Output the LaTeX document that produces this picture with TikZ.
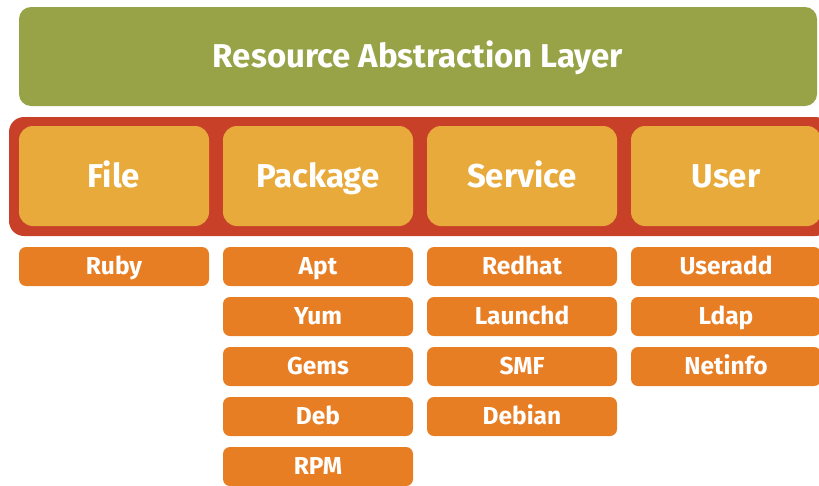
\documentclass[tikz,border=0pt]{standalone}
\usepackage{fontspec}
\setmainfont{Fira Sans}
\definecolor{ragreen}{RGB}{152,163,72}
\definecolor{rared}{RGB}{200,64,40}
\definecolor{rayellow}{RGB}{232,170,58}
\definecolor{raorange}{RGB}{232,126,36}
\tikzset{
  layerbox/.style={fill=ragreen, rounded corners=12pt, minimum width=798pt, minimum height=99pt, inner sep=0pt, text=white, text height=22.7pt, text depth=0pt, font=\fontsize{33}{36}\selectfont\bfseries},
  typebox/.style={fill=rayellow, rounded corners=14pt, minimum width=190pt, minimum height=100pt, inner sep=0pt, text=white, text height=22.7pt, text depth=0pt, font=\fontsize{33}{36}\selectfont\bfseries},
  provbox/.style={fill=raorange, rounded corners=7pt, minimum width=190pt, minimum height=39pt, inner sep=0pt, text=white, text height=16.9pt, text depth=0pt, font=\fontsize{24.5}{27}\selectfont\bfseries},
}
\begin{document}
\begin{tikzpicture}[x=1pt,y=-1pt]
\useasboundingbox (0,0) rectangle (819,485);
\node[layerbox] (ral) at (418,56.5) {Resource Abstraction Layer};
\fill[rared, rounded corners=15pt] (9,117) rectangle (830,236);
\node[typebox] (file) at (114,176) {File};
\node[typebox] (package) at (318,176) {Package};
\node[typebox] (service) at (522,176) {Service};
\node[typebox] (user) at (726,176) {User};
% providers
\node[provbox] (ruby) at (114,266.5) {Ruby};
\node[provbox] (apt) at (318,266.5) {Apt};
\node[provbox] (yum) at (318,316.5) {Yum};
\node[provbox] (gems) at (318,366.5) {Gems};
\node[provbox] (deb) at (318,416.5) {Deb};
\node[provbox] (rpm) at (318,466.5) {RPM};
\node[provbox] (redhat) at (522,266.5) {Redhat};
\node[provbox] (launchd) at (522,316.5) {Launchd};
\node[provbox] (smf) at (522,366.5) {SMF};
\node[provbox] (debian) at (522,416.5) {Debian};
\node[provbox] (useradd) at (726,266.5) {Useradd};
\node[provbox] (ldap) at (726,316.5) {Ldap};
\node[provbox] (netinfo) at (726,366.5) {Netinfo};
\end{tikzpicture}
\end{document}
